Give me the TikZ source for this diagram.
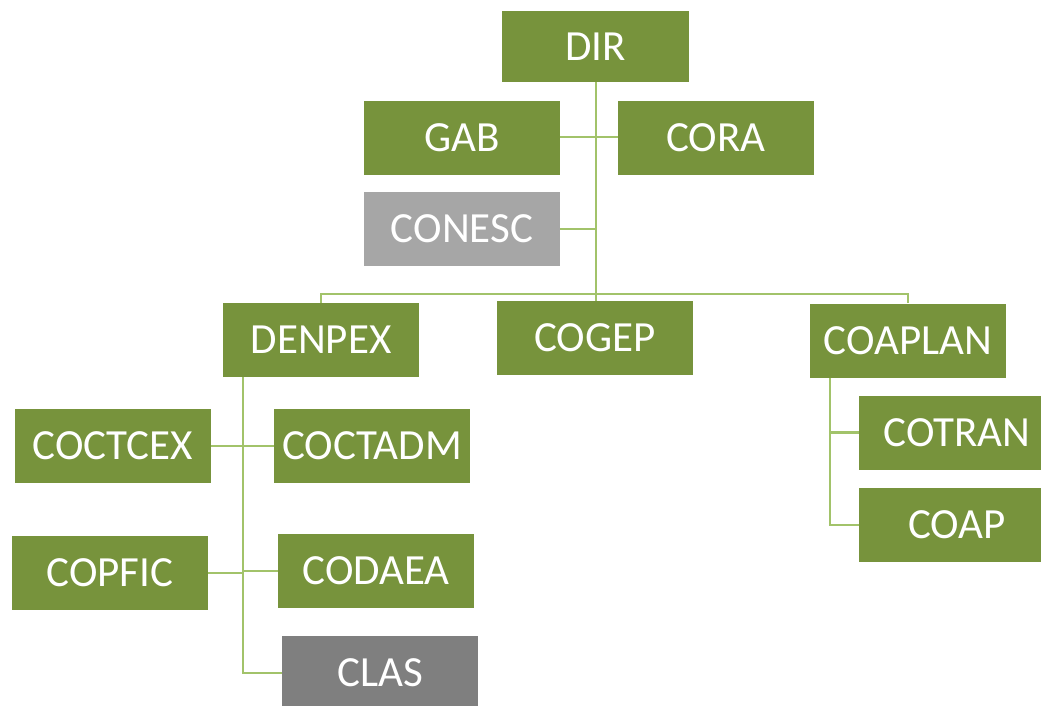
\documentclass[tikz,border=0pt]{standalone}
\usepackage{fontspec}
\setmainfont{Carlito}
\definecolor{boxgreen}{HTML}{77933C}
\definecolor{linegreen}{HTML}{A2C36A}
\definecolor{greyA}{HTML}{A6A6A6}
\definecolor{greyB}{HTML}{7F7F7F}
\begin{document}
\begin{tikzpicture}[x=1pt,y=-1pt,
  unit/.style={fill=boxgreen,draw=none,inner sep=0pt,minimum width=196pt,minimum height=74pt,
    text=white,font=\fontsize{43}{47}\selectfont},
  link/.style={draw=linegreen,line width=2.2pt}]
\useasboundingbox (0,0) rectangle (1041,706);
\begin{scope}
\clip (0,0) rectangle (1041,706);
\node[unit,minimum width=187pt,minimum height=71pt] (dir) at (595.5,46.5) {DIR};
\node[unit] (gab) at (462,138) {GAB};
\node[unit] (cora) at (716,138) {CORA};
\node[unit,fill=greyA] (conesc) at (462,229) {CONESC};
\node[unit] (denpex) at (321,340) {DENPEX};
\node[unit] (cogep) at (595,338) {COGEP};
\node[unit] (coaplan) at (908,340.5) {COAPLAN};
\node[unit] (coctcex) at (113,446) {COCTCEX};
\node[unit] (coctadm) at (372,446) {COCTADM};
\node[unit] (copfic) at (110,573) {COPFIC};
\node[unit] (codaea) at (376,571) {CODAEA};
\node[unit,fill=greyB] (clas) at (380,673) {CLAS};
\node[unit] (cotran) at (957,432.5) {COTRAN};
\node[unit] (coap) at (957,525) {COAP};
\end{scope}
\coordinate (bus) at (596,294);
\coordinate (dx) at (243,0);
\coordinate (cx) at (830,0);
% top level
\draw[link] (dir.south -| bus) -- (cogep.north -| bus);
\draw[link] (gab.east |- 0,137) -- (cora.west |- 0,137);
\draw[link] (conesc.east) -- (conesc.east -| bus);
\draw[link] (denpex.north) -- (denpex.north |- bus) -- (coaplan.north |- bus) -- (coaplan.north);
% DENPEX branch
\draw[link] (denpex.south -| dx) -- (clas.west -| dx) -- (clas.west);
\draw[link] (coctcex.east) -- (coctadm.west);
\draw[link] (copfic.east) -- (copfic.east -| dx);
\draw[link] (codaea.west -| dx) -- (codaea.west);
% COAPLAN branch
\draw[link] (coaplan.south -| cx) -- (coap.west -| cx) -- (coap.west);
\draw[link] (cotran.west -| cx) -- (cotran.west);
\end{tikzpicture}
\end{document}
